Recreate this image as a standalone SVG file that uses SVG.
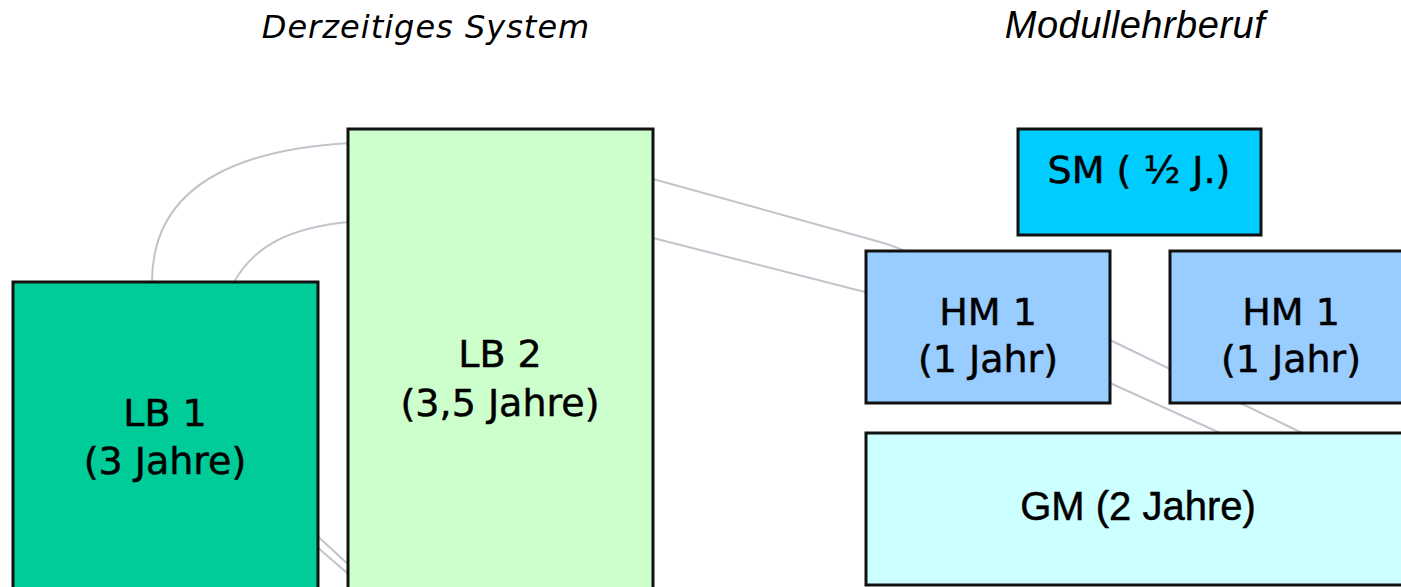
<svg xmlns="http://www.w3.org/2000/svg" width="1401" height="587" viewBox="0 0 1401 587">
  <style>
    .box { stroke: #111; stroke-width: 3; }
    .lbl { font-family: "DejaVu Sans", Verdana, sans-serif; font-size: 38px; fill: #000; stroke: #000; stroke-width: 0.5; text-anchor: middle; }
    .lbl-a { font-family: "Liberation Sans", Arial, sans-serif; font-size: 40px; fill: #000; stroke: #000; stroke-width: 0.5; text-anchor: middle; }
    .title { font-style: italic; fill: #000; text-anchor: middle; }
    .loop { fill: none; stroke: #c2c4cc; stroke-width: 2; stroke-linecap: round; }
  </style>

  <rect width="1401" height="587" fill="#ffffff"/>

  <!-- column headings -->
  <text class="title" x="426" y="38" font-family="DejaVu Sans, Verdana, sans-serif" font-size="32" letter-spacing="1">Derzeitiges System</text>
  <text class="title" x="1135" y="38" font-family="Liberation Sans, Arial, sans-serif" font-size="38" letter-spacing="0.5">Modullehrberuf</text>

  <!-- background loops, partly hidden behind the boxes -->
  <g id="connectors">
    <path class="loop" d="M 370 593 L 300 532 C 200 440 152 360 152 282 C 152 190 230 150 350 143 C 450 137 560 155 653 179 L 880 242 Q 913 251 1110 340 L 1300 432 L 1360 462"/>
    <path class="loop" d="M 375 589 L 300 520 C 260 470 234 360 234 282 C 255 245 290 228 348 222 C 450 213 560 214 653 238 L 865 292 Q 964 317 1110 383 L 1218 432 L 1260 452"/>
  </g>

  <!-- current system -->
  <g id="lb1">
    <rect class="box" x="13" y="282" width="305" height="320" fill="#00cc99"/>
    <text class="lbl" x="165" y="426">LB 1</text>
    <text class="lbl" x="165" y="474">(3 Jahre)</text>
  </g>
  <g id="lb2">
    <rect class="box" x="348" y="129" width="305" height="473" fill="#ccffcc"/>
    <text class="lbl" x="500" y="367">LB 2</text>
    <text class="lbl" x="500" y="416">(3,5 Jahre)</text>
  </g>

  <!-- module apprenticeship -->
  <g id="sm">
    <rect class="box" x="1018" y="129" width="243" height="106" fill="#00ccff"/>
    <text class="lbl" x="1139" y="183">SM ( ½ J.)</text>
  </g>
  <g id="hm1-left">
    <rect class="box" x="866" y="251" width="244" height="152" fill="#99ccff"/>
    <text class="lbl" x="988" y="325">HM 1</text>
    <text class="lbl" x="988" y="372">(1 Jahr)</text>
  </g>
  <g id="hm1-right">
    <rect class="box" x="1170" y="251" width="244" height="152" fill="#99ccff"/>
    <text class="lbl" x="1291" y="325">HM 1</text>
    <text class="lbl" x="1291" y="372">(1 Jahr)</text>
  </g>
  <g id="gm">
    <rect class="box" x="866" y="433" width="544" height="152" fill="#ccffff"/>
    <text class="lbl-a" x="1138" y="520">GM (2 Jahre)</text>
  </g>
</svg>
